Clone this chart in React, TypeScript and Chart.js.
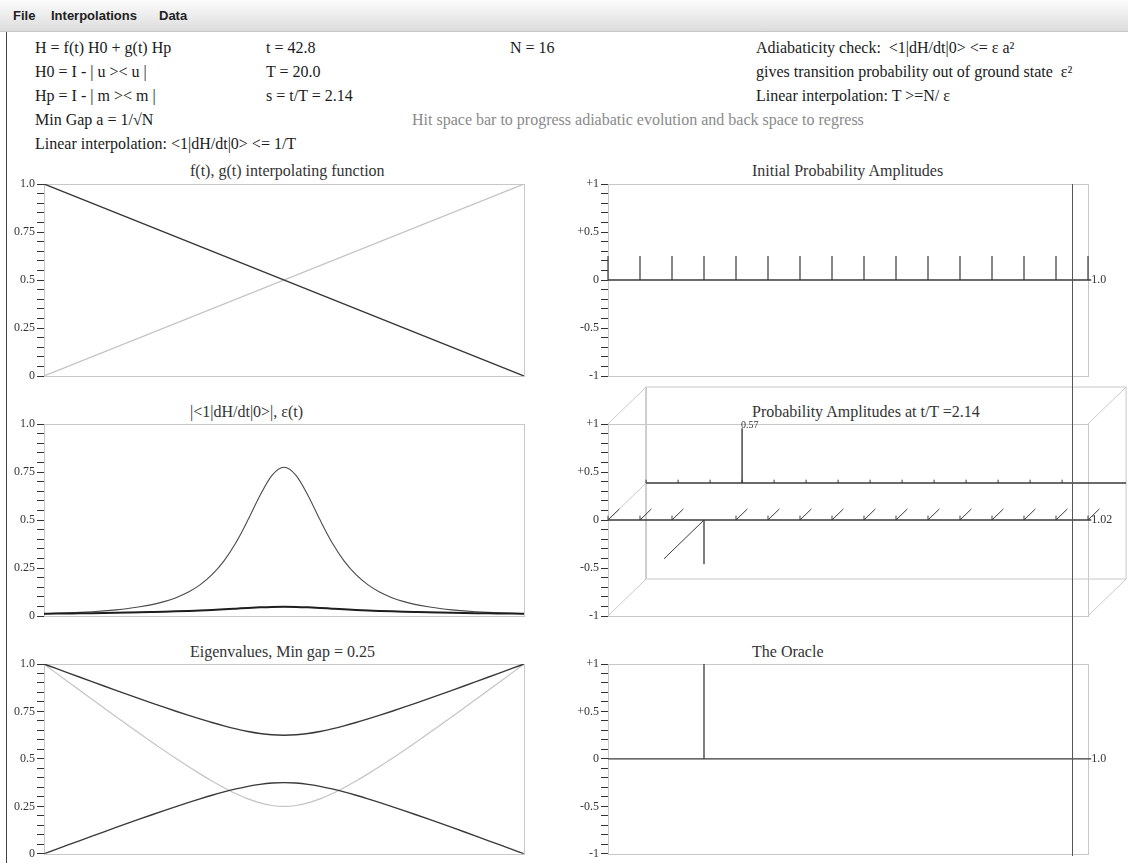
import React, { useEffect, useRef } from 'react';
import { Chart, registerables } from 'chart.js';

Chart.register(...registerables);

// ---------------- data ----------------
const S_VALUES = [0, 0.025, 0.05, 0.075, 0.1, 0.125, 0.15, 0.175, 0.2, 0.225, 0.25, 0.275, 0.3, 0.325, 0.35, 0.375, 0.4, 0.425, 0.45, 0.475, 0.5, 0.525, 0.55, 0.575, 0.6, 0.625, 0.65, 0.675, 0.7, 0.725, 0.75, 0.775, 0.8, 0.825, 0.85, 0.875, 0.9, 0.925, 0.95, 0.975, 1];

const LINE_S = [0, 1];
const F_INTERP = [1, 0];
const G_INTERP = [0, 1];

const COUPLING = [0.0121, 0.0140, 0.0162, 0.0190, 0.0224, 0.0267, 0.0321, 0.0390, 0.0478, 0.0594, 0.0748, 0.0955, 0.1235, 0.1620, 0.2150, 0.2871, 0.3826, 0.5007, 0.6279, 0.7329, 0.7744, 0.7329, 0.6279, 0.5007, 0.3826, 0.2871, 0.2150, 0.1620, 0.1235, 0.0955, 0.0748, 0.0594, 0.0478, 0.0390, 0.0321, 0.0267, 0.0224, 0.0190, 0.0162, 0.0140, 0.0121];
const EPSILON = [0.0121, 0.0127, 0.0134, 0.0141, 0.0149, 0.0158, 0.0168, 0.0179, 0.0191, 0.0206, 0.0222, 0.0241, 0.0263, 0.0287, 0.0316, 0.0348, 0.0383, 0.0419, 0.0451, 0.0475, 0.0484, 0.0475, 0.0451, 0.0419, 0.0383, 0.0348, 0.0316, 0.0287, 0.0263, 0.0241, 0.0222, 0.0206, 0.0191, 0.0179, 0.0168, 0.0158, 0.0149, 0.0141, 0.0134, 0.0127, 0.0121];

const GAP = [1, 0.9532, 0.9066, 0.8601, 0.8139, 0.7680, 0.7224, 0.6772, 0.6325, 0.5883, 0.5449, 0.5023, 0.4610, 0.4211, 0.3832, 0.3480, 0.3162, 0.2891, 0.2681, 0.2546, 0.2500, 0.2546, 0.2681, 0.2891, 0.3162, 0.3480, 0.3832, 0.4211, 0.4610, 0.5023, 0.5449, 0.5883, 0.6325, 0.6772, 0.7224, 0.7680, 0.8139, 0.8601, 0.9066, 0.9532, 1];
const EIGEN_UPPER = [1, 0.9766, 0.9533, 0.9301, 0.9070, 0.8840, 0.8612, 0.8386, 0.8163, 0.7942, 0.7725, 0.7512, 0.7305, 0.7106, 0.6916, 0.6740, 0.6581, 0.6446, 0.6341, 0.6273, 0.6250, 0.6273, 0.6341, 0.6446, 0.6581, 0.6740, 0.6916, 0.7106, 0.7305, 0.7512, 0.7725, 0.7942, 0.8163, 0.8386, 0.8612, 0.8840, 0.9070, 0.9301, 0.9533, 0.9766, 1];
const EIGEN_LOWER = [0, 0.0234, 0.0467, 0.0699, 0.0930, 0.1160, 0.1388, 0.1614, 0.1837, 0.2058, 0.2275, 0.2488, 0.2695, 0.2894, 0.3084, 0.3260, 0.3419, 0.3554, 0.3659, 0.3727, 0.3750, 0.3727, 0.3659, 0.3554, 0.3419, 0.3260, 0.3084, 0.2894, 0.2695, 0.2488, 0.2275, 0.2058, 0.1837, 0.1614, 0.1388, 0.1160, 0.0930, 0.0699, 0.0467, 0.0234, 0];

const STATE_INDEX = [0, 1, 2, 3, 4, 5, 6, 7, 8, 9, 10, 11, 12, 13, 14, 15];
const INITIAL_AMPS = [0.25, 0.25, 0.25, 0.25, 0.25, 0.25, 0.25, 0.25, 0.25, 0.25, 0.25, 0.25, 0.25, 0.25, 0.25, 0.25];
const CURRENT_FRONT = [0, 0, 0, -0.46, 0, 0, 0, 0, 0, 0, 0, 0, 0, 0, 0, 0];
const CURRENT_BACK = [0, 0, 0, 0.57, 0, 0, 0, 0, 0, 0, 0, 0, 0, 0, 0, 0];
const CURRENT_DEPTH = [0.3, 0.3, 0.3, -1.05, 0.3, 0.3, 0.3, 0.3, 0.3, 0.3, 0.3, 0.3, 0.3, 0.3, 0.3, 0.3];
const ORACLE = [0, 0, 0, 1, 0, 0, 0, 0, 0, 0, 0, 0, 0, 0, 0, 0];

const LEFT_TICK_VALUES = [0, 0.25, 0.5, 0.75, 1];
const LEFT_TICK_LABELS = ['0', '0.25', '0.5', '0.75', '1.0'];
const RIGHT_TICK_VALUES = [-1, -0.5, 0, 0.5, 1];
const RIGHT_TICK_LABELS = ['-1', '-0.5', '0', '+0.5', '+1'];

const NORM_INITIAL = '1.0';
const NORM_CURRENT = '1.02';
const NORM_ORACLE = '1.0';
const BACK_PEAK_LABEL = '0.57';

// ---------------- styling / projection constants ----------------
const DARK = '#3a3a3a';
const LIGHT = '#c4c4c4';
const FRAME = '#c8c8c8';
const SERIF = '"Liberation Serif", "Times New Roman", serif';
const DEPTH_DX = 1.19;
const DEPTH_DY = 0.385;
const HEAD = 0.045;
const ZERO_EXT = 0.1;

type Pt = { x: number; y: number | null };

const pts = (xs: number[], ys: number[]): Pt[] => xs.map((x, i) => ({ x, y: ys[i] }));

const stems = (idx: number[], vals: number[], baseY = 0, shiftX = 0): Pt[] =>
  idx.flatMap((i, k) =>
    vals[k] === 0 ? [] : [{ x: i + shiftX, y: baseY }, { x: i + shiftX, y: baseY + vals[k] }, { x: i + shiftX, y: null }]
  );

const line = (data: Pt[], color: string, width: number, extra: any = {}) => ({
  data,
  showLine: true,
  borderColor: color,
  backgroundColor: color,
  borderWidth: width,
  pointRadius: 0,
  spanGaps: false,
  tension: 0,
  fill: false,
  ...extra,
});

// ---------------- plugins ----------------
const framePlugin = {
  id: 'frame',
  beforeDatasetsDraw(chart: any) {
    const { left, top, right, bottom } = chart.chartArea;
    const ctx = chart.ctx;
    ctx.save();
    ctx.strokeStyle = FRAME;
    ctx.lineWidth = 1;
    ctx.strokeRect(Math.round(left) + 0.5, Math.round(top) + 0.5, Math.round(right - left), Math.round(bottom - top));
    ctx.restore();
  },
};

const markTextPlugin = {
  id: 'markText',
  afterDatasetsDraw(chart: any, _args: any, opts: any) {
    const items = (opts && opts.items) || [];
    const ctx = chart.ctx;
    const xs = chart.scales.x;
    const ys = chart.scales.y;
    ctx.save();
    for (const it of items) {
      ctx.font = `${it.size || 12}px ${SERIF}`;
      ctx.fillStyle = '#333';
      ctx.textAlign = 'left';
      ctx.textBaseline = 'middle';
      ctx.fillText(it.text, xs.getPixelForValue(it.x) + (it.dx || 0), ys.getPixelForValue(it.y) + (it.dy || 0));
    }
    ctx.restore();
  },
};

function yScale(min: number, max: number, step: number, tickVals: number[], tickLabels: string[]) {
  return {
    type: 'linear',
    min,
    max,
    afterFit: (s: any) => {
      s.width = 44;
    },
    afterBuildTicks: (s: any) => {
      const n = Math.round((max - min) / step);
      s.ticks = Array.from({ length: n + 1 }, (_, i) => ({ value: min + i * step }));
    },
    ticks: {
      autoSkip: false,
      padding: 2,
      color: '#333',
      font: { family: SERIF, size: 12 },
      callback: (v: number) => {
        const k = tickVals.findIndex((t) => Math.abs(t - v) < 1e-6);
        return k >= 0 ? tickLabels[k] : '';
      },
    },
    grid: { drawOnChartArea: false, drawTicks: true, tickLength: 7, color: '#333', tickColor: '#333', lineWidth: 1 },
    border: { display: false },
  };
}

function makeConfig(opts: {
  datasets: any[];
  pad: { top: number; bottom: number; right: number };
  xMax: number;
  left: boolean;
  texts?: any[];
}) {
  return {
    type: 'scatter',
    data: { datasets: opts.datasets },
    plugins: [framePlugin, markTextPlugin],
    options: {
      responsive: false,
      animation: false,
      devicePixelRatio: 1,
      events: [],
      layout: { padding: { left: 0, right: opts.pad.right, top: opts.pad.top, bottom: opts.pad.bottom } },
      scales: {
        x: { type: 'linear', min: 0, max: opts.xMax, display: false },
        y: opts.left
          ? yScale(0, 1, 0.05, LEFT_TICK_VALUES, LEFT_TICK_LABELS)
          : yScale(-1, 1, 0.1, RIGHT_TICK_VALUES, RIGHT_TICK_LABELS),
      },
      plugins: {
        legend: { display: false },
        tooltip: { enabled: false },
        title: { display: false },
        markText: { items: opts.texts || [] },
      },
    },
  } as any;
}

// ---------------- chart builders ----------------
const LEFT_PAD_R = 16;
const RIGHT_PAD_R = 40;

const buildInterp = () =>
  makeConfig({
    left: true,
    xMax: 1,
    pad: { top: 10, bottom: 10, right: LEFT_PAD_R },
    datasets: [line(pts(LINE_S, F_INTERP), DARK, 1.4), line(pts(LINE_S, G_INTERP), LIGHT, 1.2)],
  });

const buildCoupling = () =>
  makeConfig({
    left: true,
    xMax: 1,
    pad: { top: 10, bottom: 10, right: LEFT_PAD_R },
    datasets: [
      line(pts(S_VALUES, EPSILON), '#1e1e1e', 2, { cubicInterpolationMode: 'monotone' }),
      line(pts(S_VALUES, COUPLING), '#4a4a4a', 1.1, { cubicInterpolationMode: 'monotone' }),
    ],
  });

const buildEigen = () =>
  makeConfig({
    left: true,
    xMax: 1,
    pad: { top: 10, bottom: 7, right: LEFT_PAD_R },
    datasets: [
      line(pts(S_VALUES, EIGEN_UPPER), DARK, 1.4, { cubicInterpolationMode: 'monotone' }),
      line(pts(S_VALUES, EIGEN_LOWER), DARK, 1.4, { cubicInterpolationMode: 'monotone' }),
      line(pts(S_VALUES, GAP), LIGHT, 1.2, { cubicInterpolationMode: 'monotone' }),
    ],
  });

const lastIdx = STATE_INDEX[STATE_INDEX.length - 1];

const buildInitial = () =>
  makeConfig({
    left: false,
    xMax: lastIdx,
    pad: { top: 10, bottom: 10, right: RIGHT_PAD_R },
    datasets: [
      line([{ x: STATE_INDEX[0], y: 0 }, { x: lastIdx + ZERO_EXT, y: 0 }], DARK, 1.4, { clip: false }),
      line(stems(STATE_INDEX, INITIAL_AMPS), DARK, 1.2, { clip: false }),
    ],
    texts: [{ x: lastIdx + ZERO_EXT, y: 0, dx: 0, text: NORM_INITIAL }],
  });

const buildCurrent = () => {
  const first = STATE_INDEX[0];
  const arrows: Pt[] = STATE_INDEX.flatMap((i, k) => {
    const d = CURRENT_DEPTH[k];
    const tip = { x: i + d * DEPTH_DX, y: d * DEPTH_DY };
    if (d > 0) return [tip, { x: i, y: 0 }, { x: i, y: HEAD }, { x: i, y: null }];
    return [{ x: i, y: 0 }, tip, { x: i, y: null }];
  });
  const backBox: Pt[] = [
    { x: first + DEPTH_DX, y: -1 + DEPTH_DY },
    { x: lastIdx + DEPTH_DX, y: -1 + DEPTH_DY },
    { x: lastIdx + DEPTH_DX, y: 1 + DEPTH_DY },
    { x: first + DEPTH_DX, y: 1 + DEPTH_DY },
    { x: first + DEPTH_DX, y: -1 + DEPTH_DY },
  ];
  const connectors: Pt[] = [
    { x: first, y: 1 }, { x: first + DEPTH_DX, y: 1 + DEPTH_DY }, { x: first, y: null },
    { x: lastIdx, y: 1 }, { x: lastIdx + DEPTH_DX, y: 1 + DEPTH_DY }, { x: lastIdx, y: null },
    { x: first, y: -1 }, { x: first + DEPTH_DX, y: -1 + DEPTH_DY }, { x: first, y: null },
    { x: lastIdx, y: -1 }, { x: lastIdx + DEPTH_DX, y: -1 + DEPTH_DY }, { x: lastIdx, y: null },
    { x: first, y: 0 }, { x: first + DEPTH_DX, y: DEPTH_DY },
  ];
  const backTicks = stems(STATE_INDEX, STATE_INDEX.map(() => 0.035), DEPTH_DY, DEPTH_DX);
  const peakK = CURRENT_BACK.findIndex((v) => v !== 0);
  return makeConfig({
    left: false,
    xMax: lastIdx,
    pad: { top: 47, bottom: 10, right: RIGHT_PAD_R },
    datasets: [
      line(stems(STATE_INDEX, CURRENT_BACK, DEPTH_DY, DEPTH_DX), DARK, 1.4, { clip: false, order: 0 }),
      line(stems(STATE_INDEX, CURRENT_FRONT), DARK, 1.3, { clip: false, order: 0 }),
      line(arrows, DARK, 1, { clip: false, order: 0 }),
      line([{ x: first, y: 0 }, { x: lastIdx + ZERO_EXT, y: 0 }], DARK, 1.4, { clip: false, order: 1 }),
      line([{ x: first + DEPTH_DX, y: DEPTH_DY }, { x: lastIdx + DEPTH_DX, y: DEPTH_DY }], DARK, 1.4, { clip: false, order: 1 }),
      line(backTicks, DARK, 1, { clip: false, order: 1 }),
      line(backBox, FRAME, 1, { clip: false, order: 2 }),
      line(connectors, FRAME, 1, { clip: false, order: 2 }),
    ],
    texts: [
      { x: lastIdx + ZERO_EXT, y: 0, dx: 0, text: NORM_CURRENT },
      { x: STATE_INDEX[peakK] + DEPTH_DX, y: CURRENT_BACK[peakK] + DEPTH_DY, dx: -1, dy: -3, size: 10, text: BACK_PEAK_LABEL },
    ],
  });
};

const buildOracle = () =>
  makeConfig({
    left: false,
    xMax: lastIdx,
    pad: { top: 10, bottom: 7, right: RIGHT_PAD_R },
    datasets: [
      line([{ x: STATE_INDEX[0], y: 0 }, { x: lastIdx + ZERO_EXT, y: 0 }], DARK, 1.4, { clip: false }),
      line(stems(STATE_INDEX, ORACLE), DARK, 1.3, { clip: false }),
    ],
    texts: [{ x: lastIdx + ZERO_EXT, y: 0, dx: 0, text: NORM_ORACLE }],
  });

// ---------------- components ----------------
function ChartPanel({ left, top, width, height, build }: { left: number; top: number; width: number; height: number; build: () => any }) {
  const ref = useRef<HTMLCanvasElement | null>(null);
  useEffect(() => {
    const chart = new Chart(ref.current as HTMLCanvasElement, build());
    return () => chart.destroy();
  }, []);
  return (
    <canvas
      ref={ref}
      width={width}
      height={height}
      style={{ position: 'absolute', left, top, width, height }}
    />
  );
}

function Txt({ x, y, children, size = 16, color = '#1a1a1a' }: { x: number; y: number; children: any; size?: number; color?: string }) {
  const lh = Math.round(size * 1.2);
  return (
    <div
      style={{
        position: 'absolute',
        left: x,
        top: y - lh / 2,
        fontSize: size,
        lineHeight: `${lh}px`,
        fontFamily: SERIF,
        color,
        whiteSpace: 'pre',
      }}
    >
      {children}
    </div>
  );
}

function MenuItem({ x, children }: { x: number; children: any }) {
  return (
    <div
      style={{
        position: 'absolute',
        left: x,
        top: 7,
        fontFamily: '"Liberation Sans", Arial, sans-serif',
        fontWeight: 'bold',
        fontSize: 13,
        lineHeight: '17px',
        color: '#222',
      }}
    >
      {children}
    </div>
  );
}

export default function App() {
  const rows = [47, 71, 95, 119, 143];
  return (
    <div
      style={{
        position: 'absolute',
        left: 0,
        top: 0,
        width: 1128,
        height: 863,
        overflow: 'hidden',
        background: '#ffffff',
      }}
    >
      <div
        style={{
          position: 'absolute',
          left: 0,
          top: 0,
          width: 1128,
          height: 31,
          background: 'linear-gradient(#fcfcfc, #e6e6e6 70%, #dcdcdc)',
          borderBottom: '1px solid #c6c6c6',
        }}
      />
      <MenuItem x={13}>File</MenuItem>
      <MenuItem x={51}>Interpolations</MenuItem>
      <MenuItem x={159}>Data</MenuItem>
      <div style={{ position: 'absolute', left: 6, top: 32, width: 1, height: 831, background: '#444' }} />

      <Txt x={35} y={rows[0]}>H = f(t) H0 + g(t) Hp</Txt>
      <Txt x={35} y={rows[1]}>H0 = I - | u &gt;&lt; u |</Txt>
      <Txt x={35} y={rows[2]}>Hp = I - | m &gt;&lt; m |</Txt>
      <Txt x={35} y={rows[3]}>Min Gap a = 1/√N</Txt>
      <Txt x={35} y={rows[4]}>Linear interpolation: &lt;1|dH/dt|0&gt; &lt;= 1/T</Txt>

      <Txt x={266} y={rows[0]}>t = 42.8</Txt>
      <Txt x={266} y={rows[1]}>T = 20.0</Txt>
      <Txt x={266} y={rows[2]}>s = t/T = 2.14</Txt>

      <Txt x={510} y={rows[0]}>N = 16</Txt>

      <Txt x={756} y={rows[0]}>Adiabaticity check:  &lt;1|dH/dt|0&gt; &lt;= ε a²</Txt>
      <Txt x={756} y={rows[1]}>gives transition probability out of ground state  ε²</Txt>
      <Txt x={756} y={rows[2]}>Linear interpolation: T &gt;=N/ ε</Txt>

      <Txt x={412} y={rows[3]} color="#8a8a8a">Hit space bar to progress adiabatic evolution and back space to regress</Txt>

      <Txt x={190} y={170} color="#333">f(t), g(t) interpolating function</Txt>
      <Txt x={190} y={411} color="#333">|&lt;1|dH/dt|0&gt;|, ε(t)</Txt>
      <Txt x={190} y={651} color="#333">Eigenvalues, Min gap = 0.25</Txt>

      <Txt x={752} y={170} color="#333">Initial Probability Amplitudes</Txt>
      <Txt x={752} y={411} color="#333">Probability Amplitudes at t/T =2.14</Txt>
      <Txt x={752} y={651} color="#333">The Oracle</Txt>

      <ChartPanel left={0} top={174} width={540} height={212} build={buildInterp} />
      <ChartPanel left={0} top={414} width={540} height={212} build={buildCoupling} />
      <ChartPanel left={0} top={654} width={540} height={209} build={buildEigen} />

      <ChartPanel left={564} top={174} width={564} height={212} build={buildInitial} />
      <ChartPanel left={564} top={377} width={564} height={249} build={buildCurrent} />
      <ChartPanel left={564} top={654} width={564} height={209} build={buildOracle} />

      <div style={{ position: 'absolute', left: 1072, top: 184, width: 1, height: 672, background: '#555' }} />
    </div>
  );
}
